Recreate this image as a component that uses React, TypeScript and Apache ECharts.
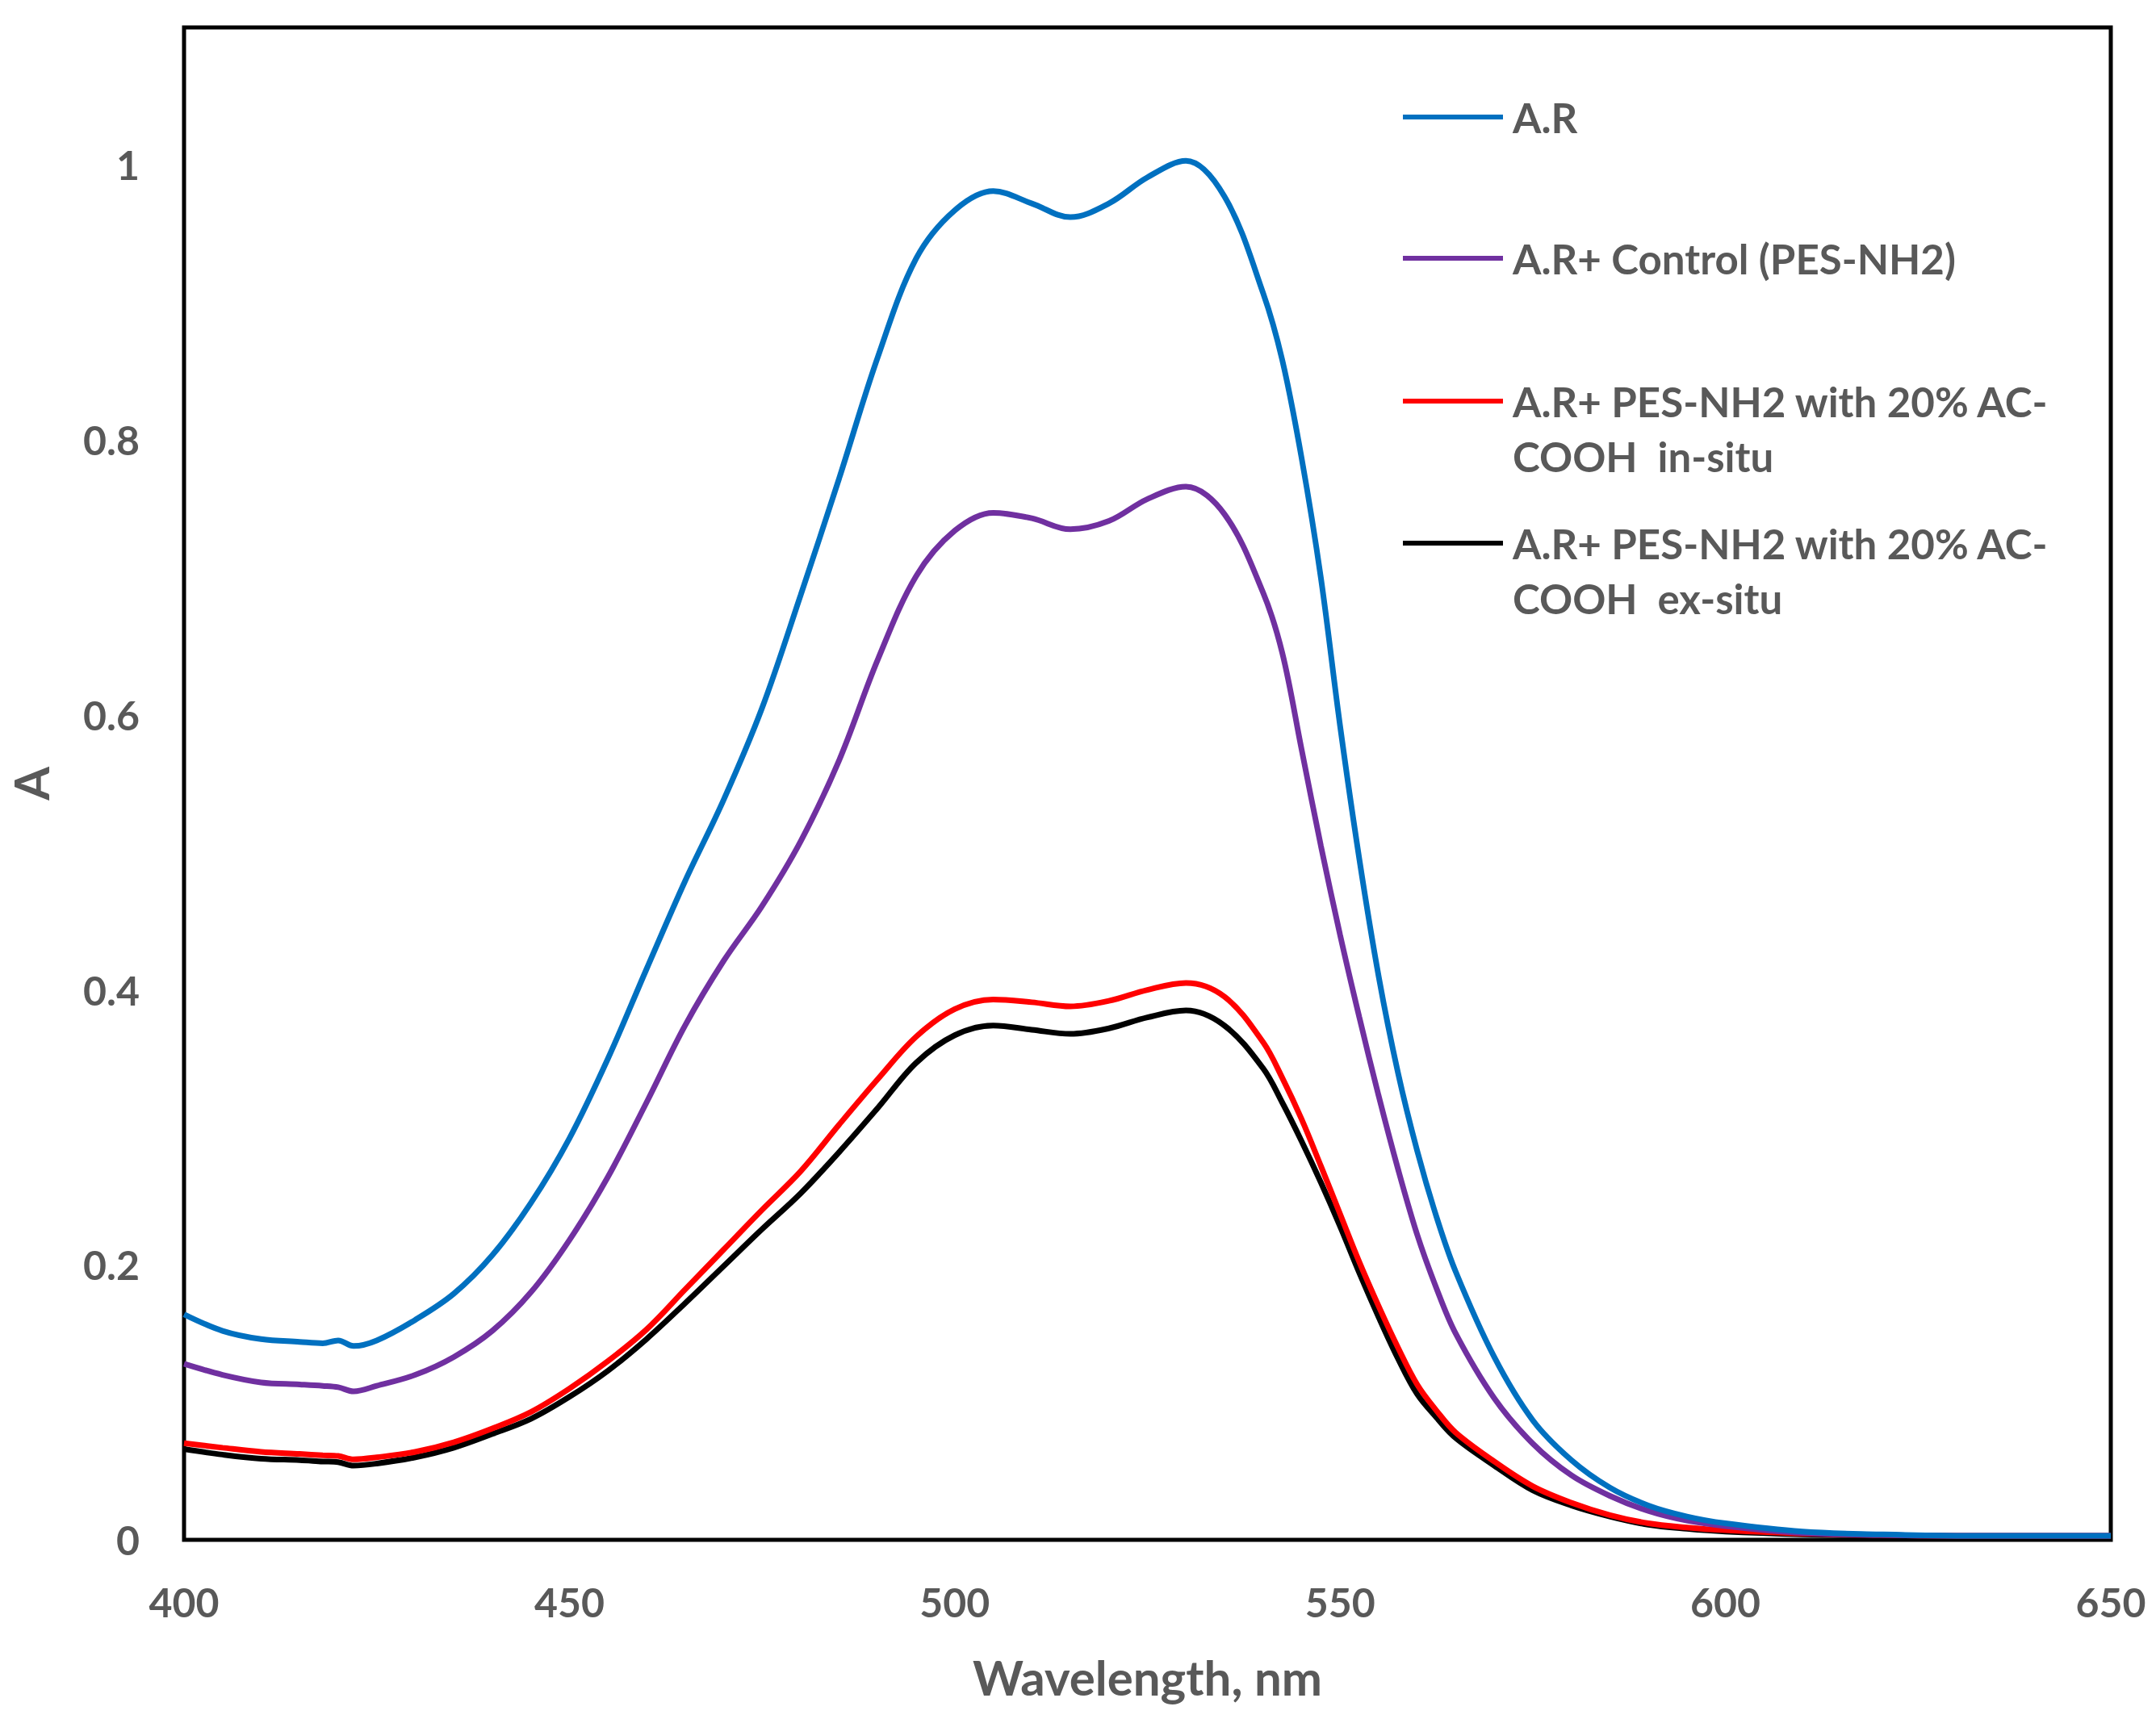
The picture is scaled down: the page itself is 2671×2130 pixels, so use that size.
import React, { useEffect, useRef } from "react";
import * as echarts from "echarts";

const wavelengths = [
  400, 405, 410, 415, 418, 420, 422, 425, 430, 435, 440, 445, 450, 455, 460, 465,
  470, 475, 480, 485, 490, 495, 500, 505, 510, 515, 520, 525, 530, 535, 540, 542.5,
  545, 547.5, 550, 552.5, 555, 557.5, 560, 562.5, 565, 570, 575, 580, 585, 590, 595,
  600, 610, 620, 630, 640, 650,
];

const seriesNames = [
  "A.R",
  "A.R+ Control (PES-NH2)",
  "A.R+ PES-NH2 with 20% AC-COOH in-situ",
  "A.R+ PES-NH2 with 20% AC-COOH ex-situ",
];

const legendLabels = [
  "A.R",
  "A.R+ Control (PES-NH2)",
  " \nA.R+ PES-NH2 with 20% AC-\nCOOH  in-situ",
  " \nA.R+ PES-NH2 with 20% AC-\nCOOH  ex-situ",
];

const arValues = [
  0.164, 0.152, 0.146, 0.144, 0.143, 0.145, 0.141, 0.145, 0.16, 0.179, 0.207, 0.245,
  0.292, 0.35, 0.415, 0.479, 0.538, 0.605, 0.687, 0.772, 0.86, 0.932, 0.967, 0.981,
  0.972, 0.962, 0.972, 0.991, 1.003, 0.977, 0.907, 0.858,
  0.787, 0.7, 0.592, 0.495, 0.41, 0.34, 0.283, 0.235, 0.195, 0.133, 0.087, 0.058,
  0.038, 0.025, 0.017, 0.012, 0.006, 0.004, 0.003, 0.003, 0.003,
];

const controlValues = [
  0.128, 0.12, 0.1145, 0.113, 0.112, 0.111, 0.108, 0.112, 0.12, 0.133, 0.152, 0.18,
  0.218, 0.264, 0.318, 0.374, 0.421, 0.461, 0.508, 0.567, 0.64, 0.701, 0.734, 0.747,
  0.743, 0.735, 0.741, 0.757, 0.766, 0.746, 0.689, 0.645,
  0.575, 0.505, 0.44, 0.38, 0.323, 0.27, 0.222, 0.183, 0.15, 0.103, 0.07, 0.047,
  0.032, 0.021, 0.014, 0.01, 0.005, 0.0035, 0.003, 0.003, 0.003,
];

const inSituValues = [
  0.0703, 0.067, 0.064, 0.0625, 0.0615, 0.061, 0.0585, 0.06, 0.064, 0.071, 0.081, 0.093,
  0.11, 0.13, 0.153, 0.182, 0.211, 0.24, 0.268, 0.302, 0.335, 0.366, 0.386, 0.393,
  0.391, 0.388, 0.392, 0.4, 0.405, 0.395, 0.362, 0.336,
  0.306, 0.272, 0.237, 0.202, 0.17, 0.14, 0.113, 0.094, 0.078, 0.057, 0.039, 0.027,
  0.018, 0.012, 0.009, 0.007, 0.0045, 0.0035, 0.003, 0.003, 0.003,
];

const exSituValues = [
  0.066, 0.062, 0.059, 0.058, 0.057, 0.0565, 0.054, 0.0555, 0.06, 0.067, 0.077, 0.088,
  0.104, 0.123, 0.146, 0.172, 0.199, 0.226, 0.252, 0.282, 0.314, 0.347, 0.367, 0.374,
  0.371, 0.368, 0.372, 0.38, 0.385, 0.374, 0.343, 0.318,
  0.29, 0.26, 0.228, 0.194, 0.162, 0.132, 0.106, 0.089, 0.074, 0.054, 0.036, 0.025,
  0.017, 0.011, 0.008, 0.006, 0.004, 0.003, 0.0025, 0.0025, 0.0025,
];

const seriesValues = [arValues, controlValues, inSituValues, exSituValues];
const seriesColors = ["#0070C0", "#7030A0", "#FF0000", "#000000"];

const xTicks = { min: 400, max: 650, interval: 50 };
const yTicks = { min: 0, max: 1.1, interval: 0.2 };

const TEXT_COLOR = "#595959";
const FONT = "Lato, 'Open Sans', sans-serif";

export default function App() {
  const ref = useRef<HTMLDivElement | null>(null);

  useEffect(() => {
    if (!ref.current) return;
    const chart = echarts.init(ref.current, undefined, { renderer: "svg" });

    const legendTops = [111, 286, 395, 571];
    const legends = seriesNames.map((name, i) => ({
      show: true,
      left: 1738,
      top: legendTops[i],
      padding: 0,
      orient: "vertical",
      selectedMode: false,
      icon: "rect",
      itemWidth: 124,
      itemHeight: 6,
      data: [{ name }],
      formatter: () => legendLabels[i],
      textStyle: {
        color: TEXT_COLOR,
        fontFamily: FONT,
        fontWeight: "bold",
        fontSize: 51,
        lineHeight: 68,
        padding: [0, 0, 0, 7],
      },
    }));

    const option = {
      animation: false,
      backgroundColor: "#ffffff",
      grid: {
        left: 227,
        right: 56,
        top: 34,
        bottom: 222,
        show: true,
        borderColor: "#000000",
        borderWidth: 5,
        backgroundColor: "transparent",
        containLabel: false,
      },
      legend: legends,
      xAxis: {
        type: "value",
        min: xTicks.min,
        max: xTicks.max,
        interval: xTicks.interval,
        name: "Wavelength, nm",
        nameLocation: "middle",
        nameGap: 140,
        nameTextStyle: {
          color: TEXT_COLOR,
          fontFamily: FONT,
          fontWeight: "bold",
          fontSize: 60,
        },
        axisLine: { show: false },
        axisTick: { show: false },
        splitLine: { show: false },
        axisLabel: {
          color: TEXT_COLOR,
          fontFamily: FONT,
          fontWeight: "bold",
          fontSize: 50,
          margin: 52,
        },
      },
      yAxis: {
        type: "value",
        min: yTicks.min,
        max: yTicks.max,
        interval: yTicks.interval,
        name: "A",
        nameLocation: "middle",
        nameGap: 160,
        nameTextStyle: {
          color: TEXT_COLOR,
          fontFamily: FONT,
          fontWeight: "bold",
          fontSize: 60,
        },
        axisLine: { show: false },
        axisTick: { show: false },
        splitLine: { show: false },
        axisLabel: {
          color: TEXT_COLOR,
          fontFamily: FONT,
          fontWeight: "bold",
          fontSize: 50,
          margin: 55,
          showMaxLabel: false,
        },
      },
      series: seriesNames.map((name, i) => ({
        name,
        type: "line",
        data: wavelengths.map((w, j) => [w, seriesValues[i][j]]),
        showSymbol: false,
        symbol: "none",
        smooth: 0.35,
        color: seriesColors[i],
        lineStyle: { color: seriesColors[i], width: 7 },
        z: 10 - i,
      })),
    };

    chart.setOption(option as any);
    return () => chart.dispose();
  }, []);

  return (
    <div
      ref={ref}
      style={{ position: "absolute", left: 0, top: 0, width: 2671, height: 2130 }}
    />
  );
}
